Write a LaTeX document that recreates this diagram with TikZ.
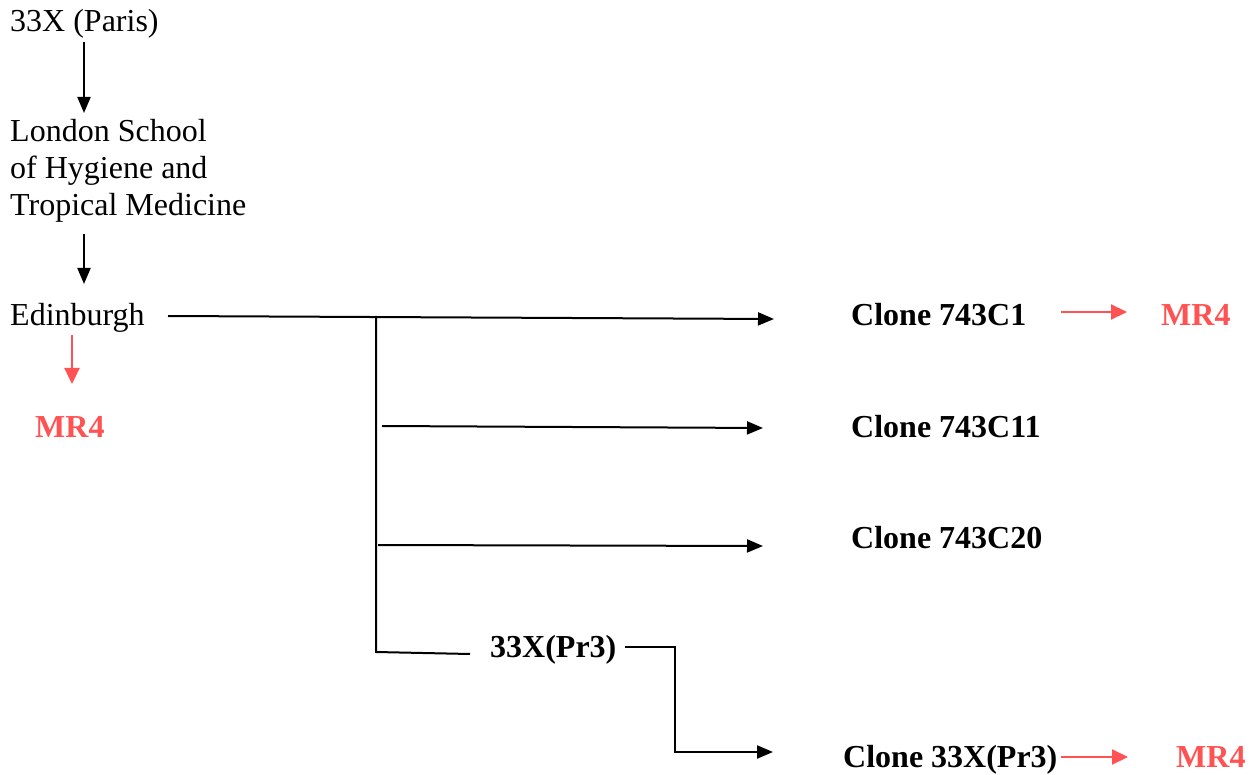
\documentclass[tikz,border=0pt]{standalone}
\usepackage{fontspec}
\setmainfont{Liberation Serif}
\usetikzlibrary{arrows.meta}
\definecolor{mrred}{RGB}{255,82,82}
\begin{document}
\begin{tikzpicture}[x=1pt,y=-1pt,
  lbl/.style={inner sep=0pt,anchor=base west,font=\fontsize{32}{37}\selectfont},
  blbl/.style={lbl,font=\fontsize{32}{37}\selectfont\bfseries},
  rlbl/.style={blbl,text=mrred},
  link/.style={line width=2pt},
  arr/.style={link,-{Triangle[length=16pt,width=13pt]}},
  rarr/.style={line width=2pt,draw=mrred,-{Triangle[length=16pt,width=15pt]}}]
\useasboundingbox (0,0) rectangle (1253,775);

% origin and early institutes
\node[lbl] (paris) at (10,32) {33X (Paris)};
\node[lbl,align=left,anchor=north west] (london) at (10,119)
  {London School\\of Hygiene and\\Tropical Medicine};
\node[lbl] (edin) at (10,326) {Edinburgh};
\node[rlbl] (mrA) at (35,437) {MR4};

\draw[arr] (84,42) coordinate (p1) -- (84,113) coordinate (p2);
\draw[arr] (84,234) coordinate (p3) -- (84,284) coordinate (p4);
\draw[rarr] (72,335) coordinate (r1) -- (72,384) coordinate (r2);

% clones
\node[blbl] (c1) at (851,326) {Clone 743C1};
\node[rlbl] (mrB) at (1161,326) {MR4};
\node[blbl] (c11) at (851,437) {Clone 743C11};
\node[blbl] (c20) at (851,548) {Clone 743C20};
\node[blbl] (pr3) at (490,657) {33X(Pr3)};
\node[blbl] (cpr3) at (843,767) {Clone 33X(Pr3)};
\node[rlbl] (mrC) at (1176,767) {MR4};

% branching tree
\coordinate (e0) at (168,316);
\coordinate (j0) at (376,316);
\coordinate (e1) at (774,319);
\coordinate (jb) at (376,652);
\coordinate (s2) at (382,426);
\coordinate (e2) at (763,428);
\coordinate (s3) at (378,545);
\coordinate (e3) at (763,546);
\coordinate (t4) at (470,654);
\coordinate (q0) at (625,647);
\coordinate (q1) at (675,647);
\coordinate (q2) at (675,752);
\coordinate (e4) at (773,752);

\draw[arr] (e0) -- (e1);
\draw[link] (j0) -- (jb) -- (t4);
\draw[arr] (s2) -- (e2);
\draw[arr] (s3) -- (e3);
\draw[arr] (q0) -- (q1) -- (q2) -- (e4);

% transfers to MR4
\draw[rarr] (1061,312) coordinate (r3) -- (1127,312) coordinate (r4);
\draw[rarr] (1061,757) coordinate (r5) -- (1128,757) coordinate (r6);
\end{tikzpicture}
\end{document}
